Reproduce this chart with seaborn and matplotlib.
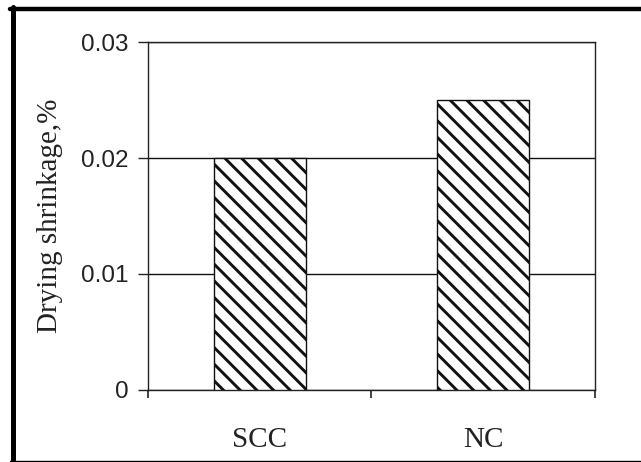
import matplotlib
matplotlib.use("Agg")
import matplotlib.pyplot as plt
from matplotlib.lines import Line2D
from matplotlib.ticker import FixedLocator
import seaborn as sns
import pandas as pd

# data
mixes = ["SCC", "NC"]
shrinkage = [0.020, 0.025]
y_ticks = [0, 0.01, 0.02, 0.03]
y_tick_labels = ["0", "0.01", "0.02", "0.03"]

df = pd.DataFrame({"mix": mixes, "shrinkage": shrinkage})

sns.set_style("white")
plt.rcParams["hatch.linewidth"] = 2.1
plt.rcParams["hatch.color"] = "black"

fig = plt.figure(figsize=(6.41, 4.62), dpi=100)
ax = fig.add_axes([0.231, 0.156, 0.697, 0.753])

sns.barplot(data=df, x="mix", y="shrinkage", color="white", edgecolor="#111111",
            linewidth=1.0, width=0.41, ax=ax, zorder=3)
for bar in ax.patches:
    bar.set_hatch("\\\\")

ax.set_xlim(-0.5, len(mixes) - 0.5)
ax.set_ylim(0, 0.03)

# gridlines
ax.yaxis.set_major_locator(FixedLocator(y_ticks))
ax.set_yticklabels(y_tick_labels, family="Liberation Sans", fontsize=17.5, color="#222222")
ax.grid(axis="y", color="#111111", linewidth=1.0, zorder=0)
ax.set_axisbelow(True)

# category labels at centres, ticks at boundaries
ax.set_xticks(range(len(mixes)))
ax.set_xticklabels(mixes, family="Liberation Serif", fontsize=21, color="#222222")
ax.set_xticks([i - 0.5 for i in range(len(mixes) + 1)], minor=True)
ax.tick_params(axis="x", which="major", length=0, pad=27)
ax.tick_params(axis="x", which="minor", length=6, width=1.2, color="#222222", direction="out", bottom=True)
ax.tick_params(axis="y", length=7, width=1.0, color="#222222", direction="out", left=True, pad=7)

ax.set_xlabel("")
ax.set_ylabel("Drying shrinkage,%", family="Liberation Serif", fontsize=21, color="#222222")
ax.yaxis.set_label_coords(-0.19, 0.5)

for s in ax.spines.values():
    s.set_visible(True)
    s.set_color("#222222")
    s.set_linewidth(1.0)

# outer frame (top, left, bottom only)
fig.add_artist(Line2D([10 / 641, 1.0], [1 - 9 / 462] * 2, color="black", linewidth=3.2))
fig.add_artist(Line2D([12.5 / 641] * 2, [1 - 7 / 462, 1 - 461 / 462], color="black", linewidth=3.6))
fig.add_artist(Line2D([10 / 641, 1.0], [1 - 460.5 / 462] * 2, color="black", linewidth=1.0))

fig.savefig("out.png", dpi=100)
